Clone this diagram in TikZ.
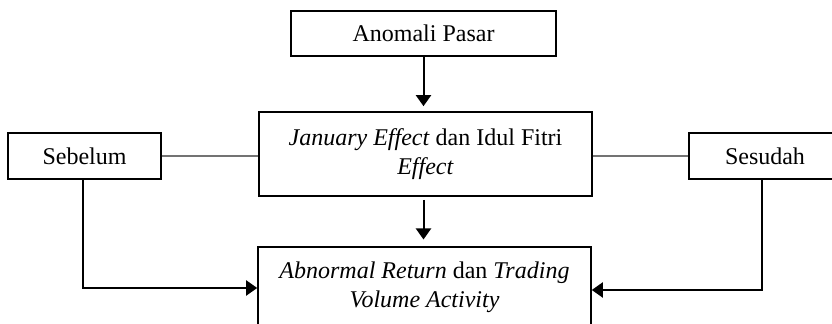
\documentclass[tikz,border=0pt]{standalone}
\usepackage{fontspec}
\setmainfont{Liberation Serif}
\usetikzlibrary{arrows.meta}
\begin{document}
\begin{tikzpicture}[x=0.5pt,y=-0.5pt,
  txt/.style={font=\fontsize{12pt}{14.5pt}\selectfont, align=center},
  box/.style={txt, draw, line width=0.8pt, inner sep=0pt},
  arr/.style={line width=1pt, -{Triangle[length=5.5pt,width=7.5pt]}},
  link/.style={draw=black!55, line width=0.6pt}]
\clip (0,0) rectangle (832,324);
\node[box, minimum width=132.5pt, minimum height=22.5pt] (anom) at (423.5,33.5) {Anomali Pasar};
\node[box, minimum width=166.5pt, minimum height=42pt] (mid) at (425.5,154) {\textit{January Effect} dan Idul Fitri\\\textit{Effect}};
\node[box, minimum width=76.5pt, minimum height=23pt] (sebelum) at (84.5,156) {Sebelum};
\node[box, minimum width=76pt, minimum height=23pt] (sesudah) at (765,156) {Sesudah};
\node[box, minimum width=166.5pt, minimum height=60pt, anchor=north] (res) at (424.5,246.5) {};
\node[txt, inner sep=0pt, anchor=north] (restext) at (424.5,261.5) {\textit{Abnormal Return} dan \textit{Trading}\\\textit{Volume Activity}};
\draw[link] (sebelum.east) -- (sebelum.east -| mid.west);
\draw[link] (mid.east |- sesudah.west) -- (sesudah.west);
\draw[arr, shorten >=2.5pt] (anom.south) -- (anom.south |- mid.north);
\draw[arr, shorten <=1.5pt, shorten >=3.5pt] (mid.south -| anom.south) -- (res.north -| anom.south);
\coordinate (inL) at (res.west |- 0,288);
\coordinate (inR) at (res.east |- 0,290);
\coordinate (outL) at ([xshift=-0.75pt]sebelum.south);
\coordinate (outR) at ([xshift=-1.5pt]sesudah.south);
\draw[arr] (outL) |- (inL);
\draw[arr] (outR) |- (inR);
\end{tikzpicture}
\end{document}
